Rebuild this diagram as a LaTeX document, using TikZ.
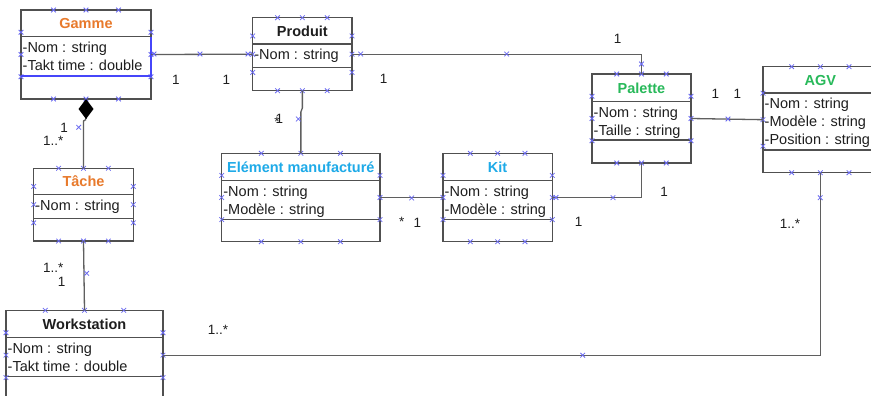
\documentclass[tikz,border=0pt]{standalone}
\usepackage{fontspec}
\setmainfont{Liberation Sans}
\usetikzlibrary{arrows.meta}
\definecolor{borange}{RGB}{232,122,44}
\definecolor{bgreen}{RGB}{40,185,90}
\definecolor{bcyan}{RGB}{30,170,232}
\definecolor{hblue}{RGB}{105,105,240}
\definecolor{selblue}{RGB}{70,70,250}
\definecolor{boxline}{RGB}{80,80,80}
\definecolor{conline}{RGB}{95,95,95}
\definecolor{txt}{RGB}{30,30,30}
\tikzset{
  classbox/.style={draw=boxline, line width=1.4pt, rectangle, inner sep=0pt, outer sep=0pt},
  boxsep/.style={draw=boxline, line width=1.4pt},
  ttl/.style={font=\fontsize{14.5}{17}\selectfont\bfseries, inner sep=0pt, anchor=base},
  attr/.style={font=\fontsize{14.5}{17}\selectfont, text=txt, inner sep=0pt, anchor=base west},
  mult/.style={font=\fontsize{13.5}{16}\selectfont, text=txt, inner sep=0pt},
  conn/.style={draw=conline, line width=1.3pt},
  hx/.pic={\draw[hblue, line width=0.75pt] (-2.3,-2.3) -- (2.3,2.3) (-2.3,2.3) -- (2.3,-2.3);}
}
\newcommand\umlclass[9]{%
  \node[classbox, minimum width={(#4)-(#2)}, minimum height={(#5)-(#3)}, anchor=north west] (#1) at (#2,#3) {};
  \draw[boxsep] (#2,#6) -- (#4,#6) (#2,#7) -- (#4,#7);
  \node[ttl, text=#9] (#1-title) at ({(#2+#4)/2},{(#3+#6)/2+5.2}) {#8};
  \foreach \f in {0.25,0.5,0.75}{
    \pic at ({#2+(#4-#2)*\f},#3) {hx};
    \pic at ({#2+(#4-#2)*\f},#5) {hx};
    \pic at (#2,{#3+(#5-#3)*\f}) {hx};
    \pic at (#4,{#3+(#5-#3)*\f}) {hx};
  }
}
\begin{document}
\begin{tikzpicture}[x=1pt,y=-1pt]
\path[use as bounding box] (0,0) rectangle (871,396);
\fill[white] (0,0) rectangle (871,396);
\clip (0,0) rectangle (871,396);

% classes
\umlclass{gamme}{21}{10}{151}{99}{36.7}{76}{Gamme}{borange}
\node[attr] (gamme-a1) at (22.5,52.7) {-Nom : string};
\node[attr] (gamme-a2) at (22.5,70.2) {-Takt time : double};
\draw[selblue, line width=1.3pt] (151,36.7) -- (151,76) -- (21,76);

\umlclass{produit}{252.7}{17.7}{352}{90.7}{44}{67.7}{Produit}{txt}
\node[attr] (produit-a1) at (254.2,60) {-Nom : string};

\umlclass{palette}{592}{74}{691}{163}{101.7}{140}{Palette}{bgreen}
\node[attr] (palette-a1) at (593.5,117.7) {-Nom : string};
\node[attr] (palette-a2) at (593.5,135.2) {-Taille : string};

\umlclass{agv}{763}{66.7}{877.7}{172.7}{93}{150}{AGV}{bgreen}
\node[attr] (agv-a1) at (764.5,109) {-Nom : string};
\node[attr] (agv-a2) at (764.5,126.5) {-Modèle : string};
\node[attr] (agv-a3) at (764.5,144) {-Position : string};

\umlclass{tache}{33.7}{168.3}{133.3}{241}{194.3}{218.3}{Tâche}{borange}
\node[attr] (tache-a1) at (35.2,210.3) {-Nom : string};

\umlclass{elem}{221.7}{153.3}{380}{241.7}{180.7}{219.3}{Elément manufacturé}{bcyan}
\node[attr] (elem-a1) at (223.2,196.7) {-Nom : string};
\node[attr] (elem-a2) at (223.2,214.2) {-Modèle : string};

\umlclass{kit}{443}{153.3}{552.3}{241.7}{180.7}{219.3}{Kit}{bcyan}
\node[attr] (kit-a1) at (444.5,196.7) {-Nom : string};
\node[attr] (kit-a2) at (444.5,214.2) {-Modèle : string};

\umlclass{ws}{6}{310.3}{163}{400}{337.7}{376.7}{Workstation}{txt}
\node[attr] (ws-a1) at (7.5,353.7) {-Nom : string};
\node[attr] (ws-a2) at (7.5,371.2) {-Takt time : double};

% connectors
\draw[conn] (gamme.east) -- (produit.west);
\draw[conn] (produit.east) -| (palette.north);
\draw[conn] (palette.east) -- (agv.west);
\draw[conn] (palette.south) |- (kit.east);
\draw[conn] (elem.east) -- (kit.west);
\coordinate (pe1) at (0,108);
\coordinate (pe2) at (0,112);
\draw[conn] (produit.south) -- (produit.south |- pe1) -- (elem.north |- pe2) -- (elem.north);
\coordinate (gt1) at (0,121);
\coordinate (gt2) at (0,119.5);
\draw[conn] (tache.north) -- (tache.north |- gt1) -- (gamme.south |- gt2);
\draw[conn, line join=round, -{Diamond[length=20pt,width=15pt,fill=black,color=black]}] (gamme.south |- gt2) -- (gamme.south);
\draw[conn] (tache.south) -- (ws.north);
\draw[conn] (agv.south) |- (ws.east);

% multiplicities
\node[mult] (m1) at (176,79.5) {1};
\node[mult] (m2) at (226.5,79.5) {1};
\node[mult] (m3) at (383.7,78.7) {1};
\node[mult] (m4) at (617.7,39) {1};
\node[mult] (m5) at (715.3,93.5) {1};
\node[mult] (m6) at (737.3,93.5) {1};
\node[mult] (m7) at (664,192) {1};
\node[mult] (m8) at (578.7,222.3) {1};
\node[mult] (m9) at (401.7,222.3) {*};
\node[mult] (m10) at (417.5,222.5) {1};
\node[mult] (m11) at (790,223.5) {1..*};
\node[mult] (m12) at (218,329.5) {1..*};
\node[mult] (m13) at (64.2,127.5) {1};
\node[mult] (m14) at (53.3,141) {1..*};
\node[mult] (m15) at (53.3,267.5) {1..*};
\node[mult] (m16) at (61.7,281.7) {1};
\node[mult] (m17) at (277,122) {*};
\node[mult] (m18) at (279.5,118.5) {1};

% connector handles
\foreach \p in {(200,54),(248,54),(154,54),(360.7,54),(506.7,54),(641.5,64),(298.3,119),
  (728,119),(613,197.7),(411.7,198),(556,197.5),(78.7,127.3),(86.7,273.3),(820.2,197.7),(582.7,355.2)}
  \pic at \p {hx};
\end{tikzpicture}
\end{document}
